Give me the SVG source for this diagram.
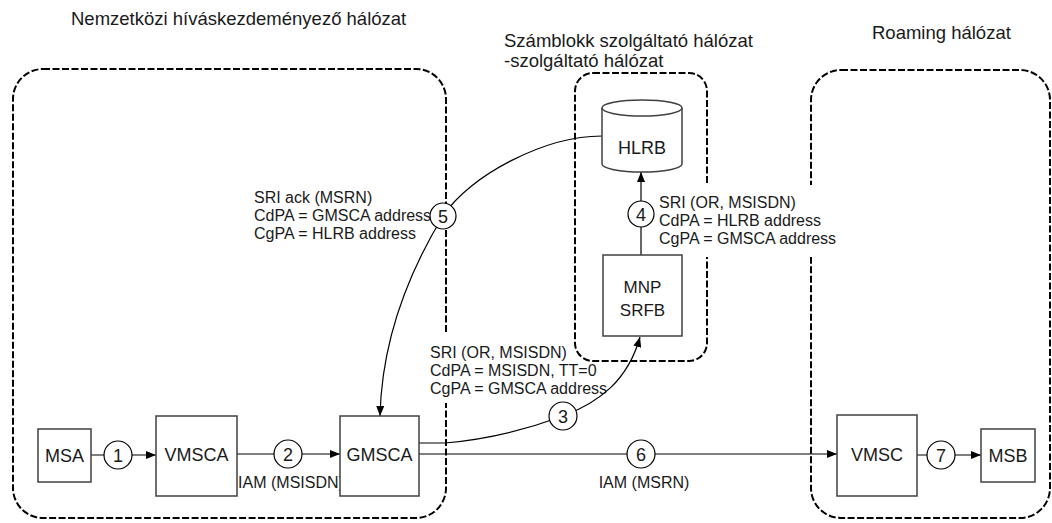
<svg xmlns="http://www.w3.org/2000/svg" width="1052" height="523" viewBox="0 0 1052 523">
<style>
  .title{font-family:"Liberation Sans",Arial,sans-serif;font-size:18.5px;fill:#1a1a1a}
  .lbl{font-family:"Liberation Sans",Arial,sans-serif;font-size:16px;fill:#1a1a1a}
  .ntxt{font-family:"Liberation Sans",Arial,sans-serif;font-size:18px;fill:#1a1a1a;text-anchor:middle}
  .num{font-family:"Liberation Sans",Arial,sans-serif;font-size:18px;fill:#1a1a1a;text-anchor:middle}
  .zone{fill:none;stroke:#000;stroke-width:2;stroke-dasharray:7 2.5}
  .box{fill:#fff;stroke:#404040;stroke-width:1.5}
  .ln{fill:none;stroke:#000;stroke-width:1.2}
  .circ{fill:#fff;stroke:#000;stroke-width:1.2}
  .bg{fill:#fff}
</style>
<defs>
  <marker id="arr" viewBox="0 0 10 8" refX="10" refY="4" markerWidth="10" markerHeight="8" orient="auto" markerUnits="userSpaceOnUse">
    <path d="M0,0 L10,4 L0,8 Z" fill="#000"/>
  </marker>
</defs>
<rect width="1052" height="523" fill="#fff"/>

<g id="zones">
  <rect class="zone" x="13" y="69" width="433" height="449" rx="30" ry="30"/>
  <rect class="zone" x="575" y="73" width="132" height="288" rx="18" ry="18"/>
  <rect class="zone" x="811" y="70" width="239" height="448" rx="30" ry="30"/>
  <text class="title" x="71" y="25">Nemzetközi híváskezdeményező hálózat</text>
  <text class="title" x="504" y="47">Számblokk szolgáltató hálózat</text>
  <text class="title" x="504" y="67">-szolgáltató hálózat</text>
  <text class="title" x="872" y="39">Roaming hálózat</text>
</g>

<g id="label-bg">
  <rect class="bg" x="428" y="333" width="140" height="70"/>
  <rect class="bg" x="655" y="185" width="190" height="72"/>
</g>

<g id="connectors">
  <line class="ln" x1="91" y1="455" x2="156" y2="455" marker-end="url(#arr)"/>
  <line class="ln" x1="237" y1="454" x2="340" y2="454" marker-end="url(#arr)"/>
  <line class="ln" x1="419" y1="454" x2="837" y2="454" marker-end="url(#arr)"/>
  <line class="ln" x1="917" y1="455" x2="981" y2="455" marker-end="url(#arr)"/>
  <line class="ln" x1="641" y1="255" x2="641" y2="172" marker-end="url(#arr)"/>
  <path class="ln" d="M419,443 H445 C480,440 520,432 563,416 C600,402 628,380 640,337" marker-end="url(#arr)"/>
  <path class="ln" d="M602,136 C545,136 470,175 443,216 C415,262 382,330 380,416" marker-end="url(#arr)"/>
  <circle class="circ" cx="118" cy="455" r="14"/>
  <text class="num" x="118" y="461.5">1</text>
  <circle class="circ" cx="288" cy="454" r="14"/>
  <text class="num" x="288" y="460.5">2</text>
  <circle class="circ" cx="563" cy="416" r="14"/>
  <text class="num" x="563" y="422.5">3</text>
  <circle class="circ" cx="641" cy="214" r="13"/>
  <text class="num" x="641" y="220.5">4</text>
  <circle class="circ" cx="443" cy="216" r="13"/>
  <text class="num" x="443" y="222.5">5</text>
  <circle class="circ" cx="641" cy="454" r="14"/>
  <text class="num" x="641" y="460.5">6</text>
  <circle class="circ" cx="941" cy="455" r="14"/>
  <text class="num" x="941" y="461.5">7</text>
  <text class="lbl" x="291" y="488" text-anchor="middle">IAM (MSISDN)</text>
  <text class="lbl" x="644" y="488" text-anchor="middle">IAM (MSRN)</text>
  <text class="lbl" x="430" y="358">SRI (OR, MSISDN)</text>
  <text class="lbl" x="430" y="376">CdPA = MSISDN, TT=0</text>
  <text class="lbl" x="430" y="394">CgPA = GMSCA address</text>
  <text class="lbl" x="659" y="208">SRI (OR, MSISDN)</text>
  <text class="lbl" x="659" y="226">CdPA = HLRB address</text>
  <text class="lbl" x="659" y="244">CgPA = GMSCA address</text>
  <text class="lbl" x="254" y="203">SRI ack (MSRN)</text>
  <text class="lbl" x="254" y="221">CdPA = GMSCA address</text>
  <text class="lbl" x="254" y="239">CgPA = HLRB address</text>
</g>

<g id="MSA">
  <rect class="box" x="38" y="429" width="53" height="53"/>
  <text class="ntxt" x="64.5" y="462">MSA</text>
</g>
<g id="VMSCA">
  <rect class="box" x="156" y="416" width="81" height="80"/>
  <text class="ntxt" x="196.5" y="461">VMSCA</text>
</g>
<g id="GMSCA">
  <rect class="box" x="340" y="416" width="79" height="80"/>
  <text class="ntxt" x="379.5" y="461">GMSCA</text>
</g>
<g id="VMSC">
  <rect class="box" x="837" y="415" width="80" height="81"/>
  <text class="ntxt" x="877" y="461">VMSC</text>
</g>
<g id="MSB">
  <rect class="box" x="981" y="429" width="54" height="53"/>
  <text class="ntxt" x="1008" y="462">MSB</text>
</g>
<g id="HLRB">
  <path class="box" d="M602,108 A40,8 0 0,1 682,108 L682,164 A40,8 0 0,1 602,164 Z"/>
  <path class="box" fill="none" d="M602,108 A40,8 0 0,0 682,108"/>
  <text class="ntxt" x="642" y="154">HLRB</text>
</g>
<g id="MNP-SRFB">
  <rect class="box" x="603" y="255" width="79" height="81"/>
  <text class="ntxt" x="642.5" y="293" style="font-size:17px">MNP</text>
  <text class="ntxt" x="642.5" y="316" style="font-size:17px">SRFB</text>
</g>
</svg>
